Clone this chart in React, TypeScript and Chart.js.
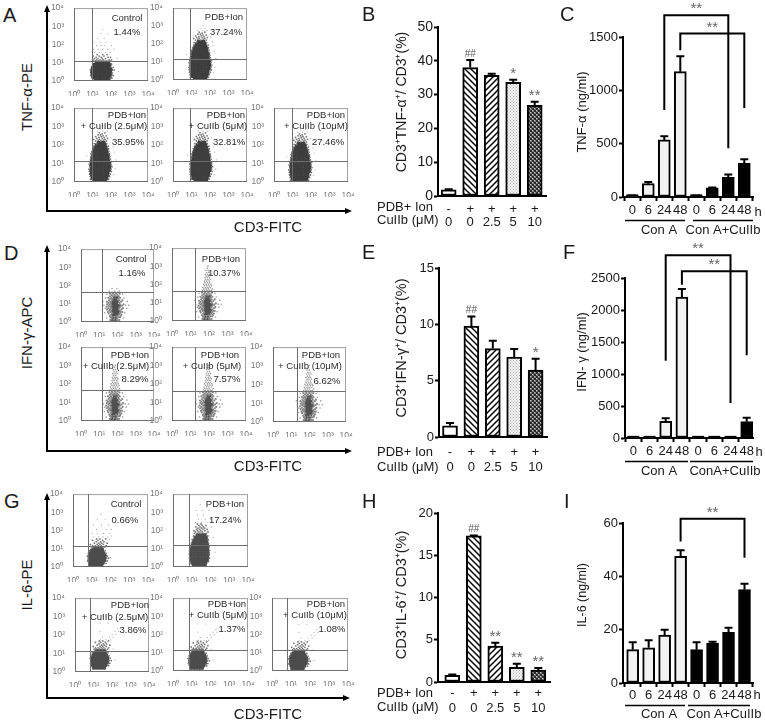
import React, { useEffect, useRef } from "react";
import { Chart, registerables } from "chart.js";

Chart.register(...registerables);

const FONT = '"Liberation Sans", Arial, sans-serif';

/* ---------- bar chart values ---------- */
const doseCategories = [["-", "0"], ["+", "0"], ["+", "2.5"], ["+", "5"], ["+", "10"]];
const hourCategories = ["0", "6", "24", "48", "0", "6", "24", "48"];

const bValues = [1.8, 38, 35.7, 33.6, 26.8];
const bErrors = [0.2, 2.2, 0.5, 0.8, 1.1];
const bMarks = ["", "##", "", "*", "**"];
const eValues = [1.0, 9.85, 7.85, 7.1, 5.95];
const eErrors = [0.25, 0.85, 0.7, 0.7, 1.0];
const eMarks = ["", "##", "", "", "*"];
const hValues = [0.8, 17.3, 4.25, 1.75, 1.4];
const hErrors = [0.1, 0.05, 0.4, 0.4, 0.25];
const hMarks = ["", "##", "**", "**", "**"];

const cValues = [10, 125, 535, 1175, 10, 85, 185, 315];
const cErrors = [4, 15, 35, 145, 4, 5, 25, 40];
const fValues = [10, 10, 260, 2200, 10, 10, 10, 255];
const fErrors = [0, 0, 50, 130, 0, 0, 0, 60];
const iValues = [12.5, 13.2, 18, 47.5, 12.5, 15, 19, 35];
const iErrors = [2.8, 2.8, 2, 2.3, 2.8, 0.5, 1.7, 2.2];

const cBrackets = [
  { from: 2, to: 6, top: 1703, leftLow: 815, rightLow: 457 },
  { from: 3, to: 7, top: 1532, leftLow: 1376, rightLow: 834 },
];
const fBrackets = [
  { from: 2, to: 6, top: 2854, leftLow: 1208, rightLow: 547 },
  { from: 3, to: 7, top: 2604, leftLow: 2396, rightLow: 1292 },
];
const iBrackets = [{ from: 3, to: 7, top: 61.6, leftLow: 53.1, rightLow: 47 }];

/* ---------- flow cytometry text ---------- */
const flowPercents = [
  "1.44%", "37.24%", "35.95%", "32.81%", "27.46%",
  "1.16%", "10.37%", "8.29%", "7.57%", "6.62%",
  "0.66%", "17.24%", "3.86%", "1.37%", "1.08%",
];
const flowTitles = ["Control", "PDB+Ion", "PDB+Ion", "PDB+Ion", "PDB+Ion"];
const flowDoses = ["", "", "+ CuIIb (2.5μM)", "+ CuIIb (5μM)", "+ CuIIb (10μM)"];
const decadeTicks = [1, 10, 100, 1000, 10000];
const decadeLabels = ["10⁰", "10¹", "10²", "10³", "10⁴"];
const gateX = [9, 8.7, 9, 8.3, 9, 15, 18, 14.5, 18.5, 19.5, 6.6, 6.8, 6.8, 6.8, 6.3];
const gateY = [13.3, 14.5, 14, 14, 14.5, 43, 43, 46, 44, 43, 14, 16, 13, 13.8, 14.3];

/* ---------- dot clouds, in decades: [y, x, x, x ...] rows ---------- */
const aSquatCore = [
  [0.06, 1.15, 1.3, 1.44, 1.6, 1.73, 1.88], [0.2, 1.03, 1.17, 1.34, 1.47, 1.62, 1.78, 1.93],
  [0.34, 0.99, 1.12, 1.27, 1.42, 1.56, 1.7, 1.84, 1.98], [0.48, 0.97, 1.1, 1.24, 1.39, 1.53, 1.67, 1.82, 1.96],
  [0.62, 0.98, 1.14, 1.28, 1.43, 1.58, 1.72, 1.86, 2], [0.76, 1.02, 1.17, 1.32, 1.46, 1.6, 1.75, 1.9],
  [0.9, 1.08, 1.24, 1.38, 1.52, 1.66, 1.8, 1.94], [1.02, 1.22, 1.38, 1.54, 1.7, 1.85],
];
const aSquatHalo = [
  [1.1, 1.07, 1.16, 1.31, 1.47, 1.62, 1.78, 1.95], [1.16, 1.02, 1.23, 1.41, 1.58, 1.9, 2.03], [1.23, 1.11, 1.3, 1.52, 1.7], [1.3, 1.2, 1.47, 1.84, 1.97],
  [1.37, 1.03, 1.36, 1.62], [1.45, 1.25, 1.55, 1.79], [0.15, 1.97, 2.05], [0.3, 2.04, 2.12], [0.45, 2.07], [0.6, 2.08, 2.17], [0.75, 2.01, 2.12], [0.92, 2.03], [0.3, 0.9], [0.6, 0.88],
];
const aSquatSpeck = [
  [1.57, 1.12, 1.37, 1.71, 1.96], [1.73, 1.05, 1.31, 1.56, 1.83], [1.94, 1.22, 1.46, 1.68, 2.02], [2.14, 1.08, 1.41, 1.75],
  [2.33, 1.29, 1.63], [2.58, 1.46, 1.84], [2.82, 1.56], [0.52, 2.4], [1.22, 2.35], [1.75, 2.15],
];
const aTallCore = [
  [0.06, 1.15, 1.3, 1.45, 1.6, 1.74], [0.2, 1.03, 1.18, 1.32, 1.47, 1.62, 1.78], [0.34, 0.99, 1.13, 1.28, 1.43, 1.57, 1.72, 1.86],
  [0.48, 0.97, 1.11, 1.26, 1.4, 1.55, 1.7, 1.85], [0.62, 0.96, 1.1, 1.25, 1.4, 1.54, 1.69, 1.84, 1.93],
  [0.76, 0.97, 1.12, 1.27, 1.42, 1.56, 1.71, 1.86, 1.95], [0.9, 0.96, 1.1, 1.25, 1.4, 1.55, 1.7, 1.85, 1.95],
  [1.04, 0.98, 1.13, 1.28, 1.43, 1.58, 1.72, 1.87, 1.94], [1.18, 1.0, 1.14, 1.29, 1.44, 1.58, 1.73, 1.88],
  [1.32, 1.02, 1.17, 1.32, 1.46, 1.6, 1.75, 1.87], [1.46, 1.05, 1.2, 1.34, 1.48, 1.63, 1.77, 1.88], [1.6, 1.07, 1.22, 1.37, 1.52, 1.66, 1.8],
  [1.74, 1.12, 1.27, 1.42, 1.56, 1.7, 1.8], [1.88, 1.18, 1.32, 1.47, 1.6, 1.74], [2.02, 1.26, 1.42, 1.56, 1.7], [2.14, 1.36, 1.52, 1.64],
];
const aTallHalo = [
  [2.22, 1.2, 1.47, 1.78], [2.27, 1.33, 1.62], [2.31, 1.1, 1.41, 1.7], [2.36, 1.26, 1.55, 1.84], [2.41, 1.38, 1.66], [2.46, 1.2, 1.5], [2.5, 1.6, 1.78], [2.55, 1.33, 1.46], [2.6, 1.56], [2.66, 1.4, 1.7],
  [0.15, 0.92, 1.9], [0.3, 0.9, 1.95], [0.43, 0.87, 2.0], [0.57, 0.86, 2.05], [0.7, 0.84, 2.03], [0.83, 0.88, 2.08], [0.97, 0.85, 2.03], [1.1, 0.88, 2.06],
  [1.24, 0.92, 2.0], [1.38, 0.95, 1.97], [1.52, 0.95, 1.95], [1.66, 1.0, 1.92], [1.8, 1.04, 1.9], [1.94, 1.1, 1.88], [2.08, 1.12, 1.25, 1.8],
];
const aTallSpeck = [
  [2.75, 1.31, 1.58, 1.82], [2.88, 1.47, 1.72], [3.04, 1.6], [1.62, 2.2], [0.71, 2.25], [1.2, 2.3], [2.41, 2.02], [2.12, 2.11], [1.43, 0.72], [0.4, 2.18], [1.9, 2.14],
];
const dCore = [
  [0.1, 1.72, 1.88], [0.24, 1.76, 1.91], [0.38, 1.74, 1.86, 1.98], [0.5, 1.78, 1.9, 2.01], [0.6, 1.72, 1.83, 1.95, 2.06],
  [0.71, 1.76, 1.87, 1.98], [0.82, 1.7, 1.81, 1.93, 2.04], [0.92, 1.75, 1.86, 1.98, 2.08], [1.02, 1.72, 1.83, 1.95], [1.12, 1.76, 1.88, 2.0], [1.23, 1.79, 1.92], [1.36, 1.84, 1.97],
];
const dHalo = [
  [0.04, 1.63, 1.79, 1.96, 2.06], [0.11, 1.6, 2.0, 2.1], [0.18, 1.67, 1.83, 1.97], [0.26, 1.62, 1.69, 2.05, 2.14], [0.33, 1.58, 1.95, 2.17], [0.41, 1.65, 2.08, 2.22], [0.47, 1.52, 1.7, 2.12],
  [0.55, 1.48, 1.62, 2.18, 2.27], [0.63, 1.55, 1.66, 2.13], [0.69, 1.43, 1.59, 2.22], [0.76, 1.5, 1.67, 2.09, 2.3], [0.84, 1.4, 1.6, 2.16], [0.9, 1.52, 1.66, 2.24], [0.97, 1.44, 1.58, 2.13, 2.33],
  [1.05, 1.5, 1.64, 2.1], [1.11, 1.42, 1.6, 2.2], [1.19, 1.53, 1.68, 2.1, 2.27], [1.27, 1.6, 1.72, 2.06], [1.33, 1.5, 1.67, 2.14], [1.41, 1.6, 1.76, 1.9, 2.07], [1.48, 1.68, 1.84, 2.0], [1.55, 1.58, 1.75, 1.92, 2.12], [1.62, 1.7, 1.86, 2.02],
];
const dFlatSpeck = [
  [0.51, 1.3, 2.4], [0.92, 1.25, 2.45, 2.62], [1.32, 1.36, 2.35], [1.7, 1.55, 1.82, 2.1], [1.84, 1.7, 1.96], [0.22, 1.4, 2.31], [1.13, 1.2, 2.54], [0.75, 1.33, 2.5], [1.52, 1.42, 2.28],
];
const dStalkSpeck = [
  [0.51, 1.3, 2.4], [0.92, 1.25, 2.45, 2.62], [1.32, 1.36, 2.35], [1.13, 1.2, 2.54], [0.22, 1.4, 2.31], [0.75, 1.33, 2.5], [1.52, 1.42, 2.28],
  [1.68, 1.6, 1.73, 1.85, 1.97, 2.09], [1.76, 1.68, 1.8, 1.92, 2.14], [1.84, 1.64, 1.78, 1.9, 2.03], [1.93, 1.72, 1.84, 1.97, 2.1], [2.01, 1.67, 1.81, 1.93, 2.06], [2.1, 1.75, 1.88, 2.0],
  [2.19, 1.72, 1.84, 1.97], [2.28, 1.78, 1.9, 2.03], [2.37, 1.73, 1.87, 1.98], [2.46, 1.8, 1.92], [2.56, 1.76, 1.88, 2.0], [2.66, 1.83, 1.95], [2.78, 1.79, 1.91], [2.9, 1.86], [3.02, 1.9],
];
const gSquatCore = [
  [0.08, 0.95, 1.1, 1.24, 1.38, 1.52], [0.22, 0.9, 1.04, 1.18, 1.32, 1.46, 1.6], [0.36, 0.86, 1.0, 1.14, 1.28, 1.42, 1.56, 1.68],
  [0.5, 0.87, 1.01, 1.15, 1.29, 1.43, 1.57, 1.7], [0.64, 0.88, 1.02, 1.16, 1.3, 1.44, 1.58, 1.7], [0.78, 0.93, 1.07, 1.21, 1.35, 1.49, 1.63], [0.92, 1.0, 1.14, 1.28, 1.42, 1.56], [1.02, 1.12, 1.26, 1.4, 1.54],
];
const gSquatHalo = [
  [1.1, 0.98, 1.1, 1.26, 1.42, 1.57, 1.7], [1.17, 1.05, 1.19, 1.35, 1.5, 1.76], [1.24, 0.93, 1.29, 1.44, 1.62], [1.31, 1.14, 1.37, 1.53, 1.82], [1.38, 1.24, 1.47, 1.65], [1.46, 1.04, 1.33, 1.58], [1.54, 1.26, 1.44, 1.75],
  [0.2, 1.76], [0.33, 1.82, 0.78], [0.48, 1.8, 1.9], [0.6, 0.76, 1.84], [0.75, 1.78, 0.82], [0.9, 1.72, 0.88],
];
const gSquatSpeck = [
  [1.65, 1.12, 1.36, 1.6, 1.86], [1.84, 1.02, 1.3, 1.63, 1.96], [2.06, 1.25, 1.77, 2.05], [2.31, 1.1, 1.52, 1.91], [2.62, 1.3, 1.72], [2.9, 1.5], [1.5, 1.95], [1.7, 2.06], [0.52, 2.0], [1.12, 2.05],
];
const gTallCore = [
  [0.08, 1.1, 1.25, 1.4, 1.55, 1.7], [0.22, 1.02, 1.16, 1.3, 1.45, 1.6, 1.74], [0.36, 0.98, 1.12, 1.27, 1.42, 1.56, 1.7, 1.82],
  [0.5, 0.96, 1.1, 1.25, 1.4, 1.55, 1.7, 1.84], [0.64, 0.96, 1.11, 1.26, 1.41, 1.56, 1.7, 1.85], [0.78, 0.98, 1.12, 1.27, 1.42, 1.56, 1.71, 1.86],
  [0.92, 0.97, 1.12, 1.27, 1.42, 1.57, 1.72, 1.85], [1.06, 1.0, 1.15, 1.3, 1.44, 1.58, 1.72, 1.84], [1.2, 1.03, 1.18, 1.33, 1.47, 1.62, 1.76, 1.84],
  [1.34, 1.08, 1.22, 1.37, 1.5, 1.65, 1.8], [1.48, 1.12, 1.27, 1.42, 1.56, 1.7, 1.8], [1.62, 1.2, 1.34, 1.48, 1.62, 1.76], [1.76, 1.3, 1.44, 1.58, 1.7],
];
const gTallHalo = [
  [1.85, 1.14, 1.29, 1.46, 1.62, 1.78], [1.92, 1.2, 1.38, 1.55, 1.87], [1.99, 1.12, 1.31, 1.48, 1.7], [2.06, 1.25, 1.42, 1.6, 1.82], [2.13, 1.33, 1.52, 1.69], [2.2, 1.22, 1.44, 1.62], [2.28, 1.38, 1.56, 1.76], [2.36, 1.3, 1.49],
  [0.3, 0.9, 1.9], [0.5, 0.88, 1.95], [0.7, 0.87, 1.94], [0.9, 0.88, 1.96], [1.1, 0.91, 1.93], [1.3, 0.98, 1.9], [1.5, 1.02, 1.88], [1.7, 1.1, 1.86],
];
const gTallSpeck = [
  [2.45, 1.2, 1.51, 1.82], [2.62, 1.36, 1.71, 2.0], [2.86, 1.29, 1.62], [3.1, 1.24, 1.56, 1.92], [3.42, 1.45], [1.62, 2.15], [0.82, 2.25], [2.2, 2.05],
];
const gStreakSpeck = [
  [1.5, 1.22, 1.51, 1.73], [1.6, 1.32, 1.62, 1.86], [1.75, 1.41, 1.8, 2.0], [1.9, 1.95, 2.15], [2.05, 1.3, 2.1, 2.3], [2.2, 2.25], [2.5, 1.3, 1.72], [2.9, 1.45], [1.1, 2.0], [0.52, 2.1],
];

const cloudSets = {
  aSquat: [aSquatSpeck, aSquatHalo, aSquatCore],
  aTall: [aTallSpeck, aTallHalo, aTallCore],
  dFlat: [dFlatSpeck, dHalo, dCore],
  dStalk: [dStalkSpeck, dHalo, dCore],
  gSquat: [gSquatSpeck, gSquatHalo, gSquatCore],
  gStreak: [gStreakSpeck, gSquatHalo, gSquatCore],
  gTall: [gTallSpeck, gTallHalo, gTallCore],
};

/* ---------- layout (page pixels) ---------- */
const flowLayout = [
  { box: [74, 8, 148, 81], cloud: "aSquat", dx: 0, dy: 0, t: [127, 18], d: [0, 0], p: [127, 32] },
  { box: [173, 8, 247, 80], cloud: "aTall", dx: 0.02, dy: 0, t: [224, 17], d: [0, 0], p: [226, 32] },
  { box: [74, 108, 148, 182], cloud: "aTall", dx: -0.03, dy: 0, t: [127, 115], d: [114, 126], p: [128, 142] },
  { box: [173, 108, 247, 182], cloud: "aTall", dx: 0.06, dy: 0, t: [226, 115], d: [218, 126], p: [229, 142] },
  { box: [274, 108, 348, 182], cloud: "aTall", dx: -0.03, dy: -0.05, t: [326, 115], d: [316, 126], p: [328, 142] },
  { box: [81, 249, 154, 322], cloud: "dFlat", dx: 0, dy: 0, t: [131, 259], d: [0, 0], p: [132, 273] },
  { box: [172, 248, 246, 321], cloud: "dStalk", dx: 0.04, dy: 0, t: [221, 259], d: [0, 0], p: [224, 273] },
  { box: [81, 347, 154, 421], cloud: "dStalk", dx: -0.02, dy: 0, t: [130, 355], d: [116, 366], p: [135, 379] },
  { box: [172, 347, 246, 421], cloud: "dStalk", dx: 0.09, dy: 0, t: [220, 355], d: [212, 366], p: [227, 379] },
  { box: [273, 347, 346, 422], cloud: "dStalk", dx: 0.08, dy: 0, t: [321, 355], d: [310, 366], p: [327, 381] },
  { box: [73, 494, 148, 567], cloud: "gSquat", dx: 0, dy: 0, t: [126, 504], d: [0, 0], p: [125, 520] },
  { box: [173, 494, 248, 567], cloud: "gTall", dx: 0, dy: 0, t: [225, 504], d: [0, 0], p: [225, 520] },
  { box: [75, 598, 149, 672], cloud: "gStreak", dx: 0.06, dy: 0.14, t: [130, 605], d: [115, 617], p: [133, 630] },
  { box: [173, 598, 248, 671], cloud: "gStreak", dx: 0.04, dy: 0.08, t: [227, 604], d: [218, 615], p: [232, 629] },
  { box: [272, 598, 348, 671], cloud: "gStreak", dx: 0.11, dy: 0.06, t: [326, 604], d: [315, 615], p: [332, 629] },
];

const hatch = (kind) => {
  const size = kind === "dots" ? 3 : kind === "check" ? 4 : 6;
  const c = document.createElement("canvas");
  c.width = size;
  c.height = size;
  const g = c.getContext("2d");
  g.fillStyle = "#fff";
  g.fillRect(0, 0, size, size);
  g.strokeStyle = "#000";
  g.lineWidth = 1.5;
  const seg = (a, b, e, f) => {
    g.beginPath();
    g.moveTo(a, b);
    g.lineTo(e, f);
    g.stroke();
  };
  if (kind === "back") {
    seg(-1, -1, size + 1, size + 1);
    seg(size - 1, -1, size + 1, 1);
    seg(-1, size - 1, 1, size + 1);
  } else if (kind === "fwd") {
    seg(-1, size + 1, size + 1, -1);
    seg(-1, 1, 1, -1);
    seg(size - 1, size + 1, size + 1, size - 1);
  } else if (kind === "dots") {
    g.fillStyle = "#f4f4f4";
    g.fillRect(0, 0, 3, 3);
    g.fillStyle = "#aaa";
    g.fillRect(0, 0, 1, 1);
    g.fillRect(1.5, 1.5, 1, 1);
  } else {
    g.fillStyle = "#777";
    g.fillRect(0, 0, 4, 4);
    g.fillStyle = "#2a2a2a";
    g.fillRect(0, 0, 2, 2);
    g.fillRect(2, 2, 2, 2);
    g.fillStyle = "#ccc";
    g.fillRect(0, 2, 1, 1);
    g.fillRect(2, 0, 1, 1);
  }
  return g.createPattern(c, "repeat");
};

const flatten = (rows, dx, dy) =>
  rows.flatMap((row) => row.slice(1).map((x) => ({ x: 10 ** (x + dx), y: 10 ** (row[0] + dy) })));

const fixedLayout = (rect, box) => ({
  autoPadding: false,
  padding: { left: 0, bottom: 0, top: box[1] - rect[1], right: rect[0] + rect[2] - box[2] },
});

const flowConfig = (idx, rect) => {
  const L = flowLayout[idx];
  const [speck, halo, core] = cloudSets[L.cloud];
  const isD = L.cloud[0] === "d";
  const isG = L.cloud[0] === "g";
  const group = idx % 5;
  const box = L.box;
  const texts = [
    { s: flowTitles[group], at: L.t },
    { s: flowDoses[group], at: L.d },
    { s: flowPercents[idx], at: L.p },
  ];
  const deco = {
    id: "flowDeco",
    afterDatasetsDraw(chart) {
      const { ctx, chartArea: a, scales } = chart;
      ctx.save();
      ctx.lineWidth = 1;
      ctx.strokeStyle = "#a0a0a0";
      ctx.strokeRect(a.left + 0.5, a.top + 0.5, a.right - a.left - 1, a.bottom - a.top - 1);
      const px = Math.round(scales.x.getPixelForValue(gateX[idx])) + 0.5;
      const py = Math.round(scales.y.getPixelForValue(gateY[idx])) + 0.5;
      ctx.strokeStyle = "#6e6e6e";
      ctx.beginPath();
      ctx.moveTo(a.left, a.bottom - 0.5);
      ctx.lineTo(a.right, a.bottom - 0.5);
      ctx.moveTo(a.left + 0.5, a.top);
      ctx.lineTo(a.left + 0.5, a.bottom);
      ctx.moveTo(px, a.top);
      ctx.lineTo(px, a.bottom);
      ctx.moveTo(a.left, py);
      ctx.lineTo(a.right, py);
      ctx.stroke();
      ctx.fillStyle = "#2b2b2b";
      ctx.font = `9.5px ${FONT}`;
      ctx.textAlign = "center";
      ctx.textBaseline = "middle";
      texts.forEach((t) => {
        if (t.s) ctx.fillText(t.s, t.at[0] - rect[0], t.at[1] - rect[1]);
      });
      ctx.restore();
    },
  };
  const logAxis = (isY) => ({
    type: "logarithmic",
    min: 1,
    max: 10000,
    afterBuildTicks: (ax) => {
      ax.ticks = decadeTicks.map((value) => ({ value }));
    },
    afterFit: (ax) => {
      if (isY) ax.width = box[0] - rect[0];
      else ax.height = rect[1] + rect[3] - box[3];
    },
    grid: { display: false },
    border: { display: false },
    ticks: {
      autoSkip: false,
      maxRotation: 0,
      minRotation: 0,
      padding: isY ? 2 : 1,
      color: "#777",
      font: { family: FONT, size: 8.5 },
      callback: (v) => decadeLabels[decadeTicks.indexOf(v)],
    },
  });
  return {
    type: "scatter",
    data: {
      datasets: [
        { data: flatten(speck, L.dx, L.dy), pointRadius: isD ? 0.8 : 0.6, backgroundColor: isD ? "#999" : "#aaa", borderWidth: 0 },
        { data: flatten(halo, L.dx, L.dy), pointRadius: isD ? 1.1 : 0.9, backgroundColor: isD ? "#858585" : "#777", borderWidth: 0 },
        { data: flatten(core, L.dx, L.dy), pointRadius: isD ? 1.5 : 1.9, backgroundColor: isD ? "#505050" : isG ? "#4c4c4c" : "#3e3e3e", borderWidth: 0 },
      ],
    },
    options: {
      animation: false,
      responsive: false,
      events: [],
      layout: fixedLayout(rect, box),
      plugins: { legend: { display: false }, tooltip: { enabled: false } },
      scales: { x: logAxis(false), y: logAxis(true) },
    },
    plugins: [deco],
  };
};

const sharedBarDeco = (P) => ({
  id: "barDeco",
  afterDatasetsDraw(chart) {
    const { ctx, scales } = chart;
    const X = (i) => scales.x.getPixelForValue(i);
    const Y = (v) => scales.y.getPixelForValue(v);
    ctx.save();
    ctx.strokeStyle = "#000";
    ctx.lineWidth = 2;
    P.values.forEach((v, i) => {
      const e = P.errors[i];
      if (Y(0) - Y(v) < 4) {
        ctx.beginPath();
        ctx.moveTo(X(i) - P.thick / 2, Y(v) - 0.5);
        ctx.lineTo(X(i) + P.thick / 2, Y(v) - 0.5);
        ctx.stroke();
      }
      if (!e) return;
      ctx.beginPath();
      ctx.moveTo(X(i), Y(v));
      ctx.lineTo(X(i), Y(v + e));
      ctx.moveTo(X(i) - P.cap, Y(v + e));
      ctx.lineTo(X(i) + P.cap, Y(v + e));
      ctx.stroke();
    });
    ctx.textAlign = "center";
    ctx.textBaseline = "middle";
    (P.marks || []).forEach((m, i) => {
      if (!m) return;
      ctx.fillStyle = m === "##" ? "#555" : "#666";
      ctx.font = `${m === "##" ? 10 : 15}px ${FONT}`;
      ctx.fillText(m, X(i), Y(P.values[i] + P.errors[i]) - 6);
    });
    (P.brackets || []).forEach((b) => {
      ctx.beginPath();
      ctx.moveTo(X(b.from), Y(b.leftLow));
      ctx.lineTo(X(b.from), Y(b.top));
      ctx.lineTo(X(b.to), Y(b.top));
      ctx.lineTo(X(b.to), Y(b.rightLow));
      ctx.stroke();
      ctx.fillStyle = "#666";
      ctx.font = `15px ${FONT}`;
      ctx.fillText("**", (X(b.from) + X(b.to)) / 2, Y(b.top) - 6);
    });
    (P.rules || []).forEach((r) => {
      ctx.lineWidth = 1.5;
      ctx.beginPath();
      ctx.moveTo(r[0] - P.rect[0], r[2] - P.rect[1] + 0.5);
      ctx.lineTo(r[1] - P.rect[0], r[2] - P.rect[1] + 0.5);
      ctx.stroke();
    });
    ctx.fillStyle = "#1a1a1a";
    P.notes.forEach((n) => {
      ctx.save();
      ctx.translate(n.x - P.rect[0], n.y - P.rect[1]);
      if (n.rot) ctx.rotate(-Math.PI / 2);
      ctx.font = `${n.size}px ${FONT}`;
      ctx.textAlign = n.left ? "left" : "center";
      ctx.fillText(n.s, 0, 0);
      ctx.restore();
    });
    ctx.restore();
  },
});

const barConfig = (P) => {
  const box = P.box;
  const rect = P.rect;
  const idx = P.values.map((_, i) => i);
  return {
    type: "bar",
    data: {
      datasets: [
        {
          data: P.values.map((y, x) => ({ x, y })),
          barThickness: P.thick,
          backgroundColor: P.fills.map((f) => (f[0] !== "#" ? hatch(f) : f)),
          borderColor: "#000",
          borderWidth: 2,
          borderSkipped: false,
          clip: false,
        },
      ],
    },
    options: {
      animation: false,
      responsive: false,
      events: [],
      layout: fixedLayout(rect, box),
      plugins: { legend: { display: false }, tooltip: { enabled: false } },
      scales: {
        x: {
          type: "linear",
          offset: false,
          min: (box[0] - P.c0) / P.step,
          max: (box[2] - P.c0) / P.step,
          afterBuildTicks: (ax) => {
            ax.ticks = idx.map((value) => ({ value }));
          },
          afterFit: (ax) => {
            ax.height = rect[1] + rect[3] - box[3];
          },
          border: { color: "#000", width: 2 },
          grid: { display: true, drawOnChartArea: false, drawTicks: P.xTicks, tickLength: 4, tickWidth: 2, tickColor: "#000" },
          ticks: {
            autoSkip: false,
            maxRotation: 0,
            minRotation: 0,
            padding: P.xPad,
            color: "#1a1a1a",
            font: { family: FONT, size: P.xSize, lineHeight: P.xLine },
            callback: (v) => P.labels[v],
          },
        },
        y: {
          min: 0,
          max: P.yMax,
          afterBuildTicks: (ax) => {
            const t = [];
            for (let v = 0; v <= P.yMax; v += P.yStep) t.push({ value: v });
            ax.ticks = t;
          },
          afterFit: (ax) => {
            ax.width = box[0] - rect[0];
          },
          border: { color: "#000", width: 2 },
          grid: { display: true, drawOnChartArea: false, tickLength: 4, tickWidth: 2, tickColor: "#000" },
          ticks: { padding: 1, color: "#1a1a1a", font: { family: FONT, size: P.ySize }, callback: (v) => String(v) },
        },
      },
    },
    plugins: [sharedBarDeco(P)],
  };
};

const doseFills = ["#ffffff", "back", "fwd", "dots", "check"];
const hourFills = ["#f2f2f2", "#f2f2f2", "#f2f2f2", "#f2f2f2", "#000000", "#000000", "#000000", "#000000"];

const barPanels = [
  {
    rect: [372, 0, 188, 240], box: [438, 27, 546, 196], c0: 448.7, step: 21.5, thick: 15, cap: 4,
    values: bValues, errors: bErrors, marks: bMarks, fills: doseFills, labels: doseCategories,
    yMax: 50, yStep: 10, ySize: 14, xTicks: false, xPad: 6.5, xSize: 13, xLine: 1,
    notes: [
      { s: "CD3⁺TNF-α⁺/ CD3⁺(%)", x: 402, y: 102, size: 14, rot: true },
      { s: "PDB+ Ion", x: 377, y: 207, size: 13, left: true },
      { s: "CuIIb (μM)", x: 377, y: 220, size: 13, left: true },
    ],
  },
  {
    rect: [565, 0, 200, 240], box: [623, 37, 753, 197], c0: 632.3, step: 16, thick: 12, cap: 4,
    values: cValues, errors: cErrors, brackets: cBrackets, fills: hourFills, labels: hourCategories,
    yMax: 1500, yStep: 500, ySize: 13, xTicks: true, xPad: 3, xSize: 13, xLine: 1,
    rules: [[625, 685, 220], [693, 753, 220]],
    notes: [
      { s: "TNF-α (ng/ml)", x: 582, y: 112, size: 13, rot: true },
      { s: "h", x: 758, y: 212, size: 13 },
      { s: "Con A", x: 659, y: 230, size: 13 },
      { s: "Con A+CuIIb", x: 723, y: 230, size: 13 },
    ],
  },
  {
    rect: [372, 240, 188, 240], box: [439, 268, 547, 437], c0: 450, step: 21.4, thick: 15, cap: 4,
    values: eValues, errors: eErrors, marks: eMarks, fills: doseFills, labels: doseCategories,
    yMax: 15, yStep: 5, ySize: 13, xTicks: false, xPad: 8, xSize: 13, xLine: 15 / 13,
    notes: [
      { s: "CD3⁺IFN-γ⁺/ CD3⁺(%)", x: 402, y: 348, size: 14.5, rot: true },
      { s: "PDB+ Ion", x: 377, y: 452, size: 13, left: true },
      { s: "CuIIb (μM)", x: 377, y: 467, size: 13, left: true },
    ],
  },
  {
    rect: [565, 240, 200, 240], box: [625, 278, 753, 438], c0: 633.3, step: 16.2, thick: 12, cap: 4,
    values: fValues, errors: fErrors, brackets: fBrackets, fills: hourFills, labels: hourCategories,
    yMax: 2500, yStep: 500, ySize: 13, xTicks: true, xPad: 3, xSize: 13, xLine: 1,
    rules: [[625, 688, 461], [690, 753, 461]],
    notes: [
      { s: "IFN- γ (ng/ml)", x: 582, y: 352, size: 13, rot: true },
      { s: "h", x: 759, y: 452, size: 13 },
      { s: "Con A", x: 659, y: 471, size: 13 },
      { s: "ConA+CuIIb", x: 725, y: 471, size: 13 },
    ],
  },
  {
    rect: [372, 490, 188, 233], box: [438, 513, 550, 682], c0: 452.3, step: 21.5, thick: 15, cap: 4,
    values: hValues, errors: hErrors, marks: hMarks, fills: doseFills, labels: doseCategories,
    yMax: 20, yStep: 5, ySize: 13, xTicks: false, xPad: 4.5, xSize: 13, xLine: 14.5 / 13,
    notes: [
      { s: "CD3⁺IL-6⁺/ CD3⁺(%)", x: 402, y: 595, size: 14.5, rot: true },
      { s: "PDB+ Ion", x: 377, y: 693, size: 13, left: true },
      { s: "CuIIb (μM)", x: 377, y: 707, size: 13, left: true },
    ],
  },
  {
    rect: [565, 490, 200, 233], box: [623, 523, 753, 683], c0: 632.7, step: 15.97, thick: 12, cap: 4,
    values: iValues, errors: iErrors, brackets: iBrackets, fills: hourFills, labels: hourCategories,
    yMax: 60, yStep: 20, ySize: 13, xTicks: true, xPad: 2, xSize: 13, xLine: 1,
    rules: [[625, 685, 705], [688, 750, 705]],
    notes: [
      { s: "IL-6 (ng/ml)", x: 583, y: 595, size: 12.5, rot: true },
      { s: "h", x: 757, y: 695, size: 13 },
      { s: "Con A", x: 659, y: 714, size: 13 },
      { s: "Con A+CuIIb", x: 724, y: 714, size: 13 },
    ],
  },
];

const panelLetters = [
  ["A", 3, 21], ["B", 362, 20], ["C", 560, 20], ["D", 4, 259], ["E", 362, 258], ["F", 563, 258], ["G", 4, 507], ["H", 362, 507], ["I", 564, 507],
];
const sideTitles = [["TNF-α-PE", 26, 97], ["IFN-γ-APC", 26, 333], ["IL-6-PE", 26, 585]];
const bottomTitles = [["CD3-FITC", 268, 232], ["CD3-FITC", 268, 471], ["CD3-FITC", 268, 719]];
const arrowFrames = [[47, 5, 211, 352], [47, 245, 451, 352], [47, 493, 698, 350]];

function ChartCanvas({ rect, make }) {
  const ref = useRef(null);
  useEffect(() => {
    const chart = new Chart(ref.current, make());
    return () => chart.destroy();
  }, []);
  return (
    <canvas
      ref={ref}
      width={rect[2]}
      height={rect[3]}
      style={{ position: "absolute", left: rect[0], top: rect[1], width: rect[2], height: rect[3] }}
    />
  );
}

export default function App() {
  return (
    <div style={{ position: "absolute", left: 0, top: 0, width: 765, height: 723, background: "#fff", overflow: "hidden", fontFamily: FONT, color: "#1a1a1a" }}>
      <svg width={765} height={723} style={{ position: "absolute", left: 0, top: 0 }}>
        {arrowFrames.map(([x, top, y, right], i) => (
          <g key={i}>
            <path d={`M${x} ${top + 4} L${x} ${y} L${right - 4} ${y}`} fill="none" stroke="#000" strokeWidth={2} />
            <path d={`M${x} ${top} l-3 7 h6 z M${right} ${y} l-7 -3 v6 z`} fill="#000" />
          </g>
        ))}
      </svg>
      {flowLayout.map((L, i) => {
        const rect = [L.box[0] - 24, L.box[1] - 7, L.box[2] - L.box[0] + 36, L.box[3] - L.box[1] + 22];
        return <ChartCanvas key={i} rect={rect} make={() => flowConfig(i, rect)} />;
      })}
      {barPanels.map((P, i) => (
        <ChartCanvas key={i} rect={P.rect} make={() => barConfig(P)} />
      ))}
      {panelLetters.map(([s, x, y]) => (
        <div key={s} style={{ position: "absolute", left: x, top: y - 16, fontSize: 20, lineHeight: "20px" }}>{s}</div>
      ))}
      {sideTitles.map(([s, x, y]) => (
        <div key={s} style={{ position: "absolute", left: x, top: y, fontSize: 15, whiteSpace: "nowrap", transform: "translate(-50%,-50%) rotate(-90deg)" }}>{s}</div>
      ))}
      {bottomTitles.map(([s, x, y], i) => (
        <div key={i} style={{ position: "absolute", left: x, top: y - 14, fontSize: 15, lineHeight: "17px", whiteSpace: "nowrap", transform: "translateX(-50%)" }}>{s}</div>
      ))}
    </div>
  );
}
